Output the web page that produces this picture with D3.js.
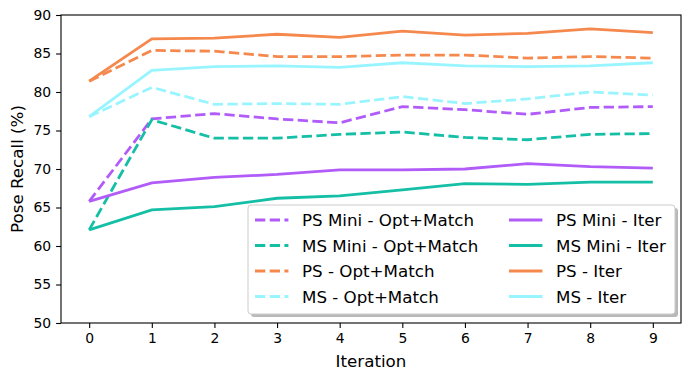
<!DOCTYPE html>
<html>
<head>
<meta charset="utf-8">
<script src="https://cdn.jsdelivr.net/npm/d3@7"></script>
<style>
  body { margin: 0; background: #fff; }
  text { font-family: "DejaVu Sans", sans-serif; fill: #000; }
</style>
</head>
<body>
<div id="chart"></div>
<script>
var width = 690, height = 380;
var margin = {top: 15, right: 9, bottom: 57, left: 61};

var iterations = [0, 1, 2, 3, 4, 5, 6, 7, 8, 9];
var yTicks = [50, 55, 60, 65, 70, 75, 80, 85, 90];

// values
var psMiniOpt = [65.8, 76.5, 77.2, 76.5, 76.0, 78.1, 77.7, 77.1, 78.0, 78.1];
var msMiniOpt = [62.1, 76.4, 74.0, 74.0, 74.5, 74.8, 74.1, 73.8, 74.5, 74.6];
var psOpt     = [81.4, 85.4, 85.3, 84.6, 84.6, 84.8, 84.8, 84.4, 84.6, 84.4];
var msOpt     = [76.8, 80.6, 78.4, 78.5, 78.4, 79.4, 78.5, 79.1, 80.0, 79.6];
var psMiniIter = [65.8, 68.2, 68.9, 69.3, 69.9, 69.9, 70.0, 70.7, 70.3, 70.1];
var msMiniIter = [62.1, 64.7, 65.1, 66.2, 66.5, 67.3, 68.1, 68.0, 68.3, 68.3];
var psIter     = [81.4, 86.9, 87.0, 87.5, 87.1, 87.9, 87.4, 87.6, 88.2, 87.7];
var msIter     = [76.8, 82.8, 83.3, 83.4, 83.2, 83.8, 83.4, 83.3, 83.4, 83.8];

var purple = "#b15cf8", teal = "#14bfa6", orange = "#f5884d", cyan = "#98f5ff";

var series = [
  {name: "PS Mini - Opt+Match", values: psMiniOpt, color: purple, dashed: true},
  {name: "MS Mini - Opt+Match", values: msMiniOpt, color: teal, dashed: true},
  {name: "PS - Opt+Match", values: psOpt, color: orange, dashed: true},
  {name: "MS - Opt+Match", values: msOpt, color: cyan, dashed: true},
  {name: "PS Mini - Iter", values: psMiniIter, color: purple, dashed: false},
  {name: "MS Mini - Iter", values: msMiniIter, color: teal, dashed: false},
  {name: "PS - Iter", values: psIter, color: orange, dashed: false},
  {name: "MS - Iter", values: msIter, color: cyan, dashed: false}
];

var lw = 2.78, dash = "10.3,4.4";

var svg = d3.select("#chart").append("svg")
  .attr("width", width).attr("height", height);

var pw = width - margin.left - margin.right;
var ph = height - margin.top - margin.bottom;

var x = d3.scaleLinear().domain([-0.45, 9.45]).range([0, pw]);
var y = d3.scaleLinear().domain([50, 90]).range([ph, 0]);

var g = svg.append("g").attr("transform", "translate(" + margin.left + "," + margin.top + ")");

g.append("defs").append("clipPath").attr("id", "clip")
  .append("rect").attr("width", pw).attr("height", ph);

var line = d3.line().x(function(d, i) { return x(iterations[i]); }).y(function(d) { return y(d); });

g.append("g").attr("clip-path", "url(#clip)")
  .selectAll("path").data(series).enter().append("path")
  .attr("d", function(d) { return line(d.values); })
  .attr("fill", "none")
  .attr("stroke", function(d) { return d.color; })
  .attr("stroke-width", lw)
  .attr("stroke-dasharray", function(d) { return d.dashed ? dash : null; });

// axes
var xAxis = g.append("g").attr("transform", "translate(0," + ph + ")")
  .call(d3.axisBottom(x).tickValues(iterations).tickSize(4.9).tickPadding(4.9).tickFormat(d3.format("d")));
var yAxis = g.append("g")
  .call(d3.axisLeft(y).tickValues(yTicks).tickSize(4.9).tickPadding(4.9));

[xAxis, yAxis].forEach(function(a) {
  a.select(".domain").remove();
  a.selectAll("line").attr("stroke", "#000").attr("stroke-width", 1.1);
  a.selectAll("text").style("font-size", "13.9px").attr("fill", "#000");
});

// frame
g.append("rect").attr("width", pw).attr("height", ph)
  .attr("fill", "none").attr("stroke", "#000").attr("stroke-width", 1.1);

svg.append("text")
  .attr("x", margin.left + pw / 2).attr("y", 367)
  .attr("text-anchor", "middle").style("font-size", "16.7px")
  .text("Iteration");

svg.append("text")
  .attr("transform", "translate(23," + (margin.top + ph / 2) + ") rotate(-90)")
  .attr("text-anchor", "middle").style("font-size", "16.7px")
  .text("Pose Recall (%)");

// legend
var lx = 248, ly = 205, lwid = 427, lht = 109;
svg.append("rect").attr("x", lx + 3).attr("y", ly + 3)
  .attr("width", lwid).attr("height", lht).attr("rx", 3)
  .attr("fill", "#808080").attr("opacity", 0.55);
svg.append("rect").attr("x", lx).attr("y", ly)
  .attr("width", lwid).attr("height", lht).attr("rx", 3)
  .attr("fill", "#fff").attr("stroke", "#ccc").attr("stroke-width", 1);

var colX = [255, 509];
var rowY = [220, 245.5, 271, 296.5];

var item = svg.append("g").selectAll("g").data(series).enter().append("g")
  .attr("transform", function(d, i) {
    return "translate(" + colX[Math.floor(i / 4)] + "," + rowY[i % 4] + ")";
  });
item.append("line")
  .attr("x1", 0).attr("x2", 33.4).attr("y1", 0).attr("y2", 0)
  .attr("stroke", function(d) { return d.color; })
  .attr("stroke-width", lw)
  .attr("stroke-dasharray", function(d) { return d.dashed ? dash : null; });
item.append("text")
  .attr("x", 47).attr("dy", "0.36em")
  .style("font-size", "16.7px")
  .text(function(d) { return d.name; });
</script>
</body>
</html>
